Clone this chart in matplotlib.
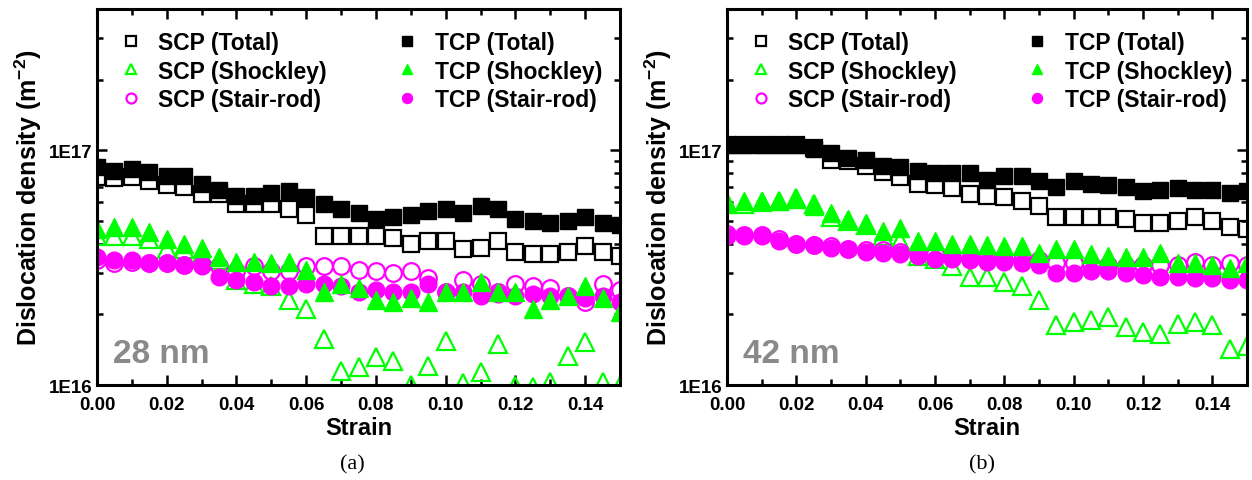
import numpy as np
import matplotlib
matplotlib.use('Agg')
import matplotlib.pyplot as plt
from matplotlib.ticker import FixedLocator, LogLocator, NullFormatter, MultipleLocator, FuncFormatter

plt.rcParams['font.family'] = ['Liberation Sans', 'DejaVu Sans']
plt.rcParams['font.weight'] = 'bold'
plt.rcParams['mathtext.fontset'] = 'custom'
plt.rcParams['mathtext.rm'] = 'Liberation Sans:bold'
plt.rcParams['mathtext.bf'] = 'Liberation Sans:bold'
plt.rcParams['mathtext.default'] = 'bf'

strain = np.arange(31) * 0.005

# 28 nm pillar (units of 1E16 m^-2)
scp_total_28 = [7.7, 7.6, 7.7, 7.4, 7.1, 7.0, 6.5, 6.5, 5.9, 5.9, 5.9, 5.6, 5.3, 4.3, 4.3, 4.3,
                4.3, 4.25, 4.0, 4.1, 4.1, 3.8, 3.85, 4.1, 3.7, 3.6, 3.6, 3.7, 3.9, 3.7, 3.55]
tcp_total_28 = [8.5, 8.2, 8.3, 8.1, 7.8, 7.8, 7.2, 6.8, 6.4, 6.4, 6.6, 6.7, 6.3, 5.9, 5.6, 5.4,
                5.1, 5.2, 5.3, 5.5, 5.6, 5.4, 5.8, 5.6, 5.1, 5.0, 4.9, 5.0, 5.2, 4.9, 4.8]
scp_shock_28 = [4.3, 4.3, 4.3, 4.2, 3.8, 3.8, 3.6, 3.4, 2.8, 2.7, 2.65, 2.3, 2.1, 1.57, 1.15, 1.19,
                1.32, 1.27, 1.0, 1.21, 1.54, 1.02, 1.14, 1.50, 0.99, 0.98, 1.03, 1.33, 1.53, 1.03, 0.99]
tcp_shock_28 = [4.6, 4.7, 4.7, 4.5, 4.2, 4.0, 3.85, 3.5, 3.35, 3.35, 3.3, 3.35, 3.1, 2.5, 2.7, 2.6,
                2.3, 2.25, 2.35, 2.25, 2.5, 2.5, 2.75, 2.5, 2.5, 2.1, 2.3, 2.4, 2.65, 2.35, 2.05]
scp_stair_28 = [3.4, 3.3, 3.35, 3.3, 3.3, 3.25, 3.25, 3.2, 3.05, 3.2, 3.05, 3.05, 3.2, 3.2, 3.2, 3.1,
                3.05, 3.0, 3.05, 2.85, 2.5, 2.8, 2.7, 2.5, 2.7, 2.65, 2.6, 2.4, 2.25, 2.7, 2.55]
tcp_stair_28 = [3.5, 3.4, 3.4, 3.3, 3.3, 3.25, 3.2, 2.9, 2.8, 2.75, 2.65, 2.65, 2.7, 2.7, 2.65, 2.5,
                2.55, 2.5, 2.5, 2.7, 2.5, 2.5, 2.4, 2.45, 2.4, 2.45, 2.4, 2.4, 2.35, 2.4, 2.25]

# 42 nm pillar
scp_total_42 = [10.5, 10.5, 10.5, 10.5, 10.5, 10.2, 9.1, 9.0, 8.6, 8.1, 7.7, 7.2, 7.1, 6.9, 6.5, 6.4,
                6.3, 6.1, 5.8, 5.2, 5.2, 5.2, 5.2, 5.1, 4.9, 4.9, 5.0, 5.2, 5.0, 4.7, 4.6]
tcp_total_42 = [10.5, 10.5, 10.5, 10.5, 10.5, 10.1, 9.7, 9.3, 9.1, 8.6, 8.5, 8.2, 8.0, 8.0, 8.0, 7.5,
                7.8, 7.8, 7.4, 7.0, 7.4, 7.2, 7.1, 7.0, 6.7, 6.75, 6.9, 6.8, 6.8, 6.55, 6.7]
scp_shock_42 = [5.9, 5.9, 6.0, 6.1, 6.25, 5.9, 5.2, 5.0, 4.8, 4.3, 4.1, 3.55, 3.45, 3.2, 2.9, 2.9,
                2.75, 2.65, 2.3, 1.8, 1.85, 1.9, 1.95, 1.77, 1.68, 1.65, 1.82, 1.86, 1.8, 1.43, 1.47]
tcp_shock_42 = [6.0, 6.1, 6.1, 6.1, 6.2, 5.8, 5.4, 5.1, 4.9, 4.55, 4.65, 4.1, 4.1, 4.0, 4.0, 3.95,
                3.9, 3.9, 3.65, 3.8, 3.8, 3.6, 3.55, 3.5, 3.5, 3.65, 3.3, 3.3, 3.25, 3.15, 3.3]
scp_stair_42 = [4.4, 4.35, 4.35, 4.2, 4.0, 3.95, 3.9, 3.8, 3.75, 3.75, 3.7, 3.65, 3.6, 3.5, 3.45, 3.45,
                3.4, 3.4, 3.4, 3.3, 3.3, 3.25, 3.25, 3.2, 3.25, 3.25, 3.25, 3.35, 3.25, 3.3, 3.25]
tcp_stair_42 = [4.3, 4.3, 4.3, 4.1, 4.0, 3.95, 3.85, 3.8, 3.7, 3.65, 3.6, 3.55, 3.45, 3.45, 3.4, 3.35,
                3.35, 3.3, 3.25, 3.0, 3.0, 3.05, 3.05, 3.0, 2.95, 2.9, 2.9, 2.85, 2.85, 2.8, 2.8]

GREEN = '#00ff00'
MAGENTA = '#ff00ff'


def draw_panel(ax, data, size_label):
    scp_t, tcp_t, scp_s, tcp_s, scp_r, tcp_r = [np.array(d) * 1e16 for d in data]
    lw = 1.6
    h = {}
    # open symbols first, filled symbols on top
    h['scp_t'], = ax.plot(strain, scp_t, 's', ms=11, mfc='none', mec='black', mew=lw, label='SCP (Total)')
    h['scp_s'], = ax.plot(strain, scp_s, '^', ms=13, mfc='none', mec=GREEN, mew=lw, label='SCP (Shockley)')
    h['scp_r'], = ax.plot(strain, scp_r, 'o', ms=12, mfc='none', mec=MAGENTA, mew=lw, label='SCP (Stair-rod)')
    h['tcp_r'], = ax.plot(strain, tcp_r, 'o', ms=12, color=MAGENTA, mec=MAGENTA, label='TCP (Stair-rod)')
    h['tcp_t'], = ax.plot(strain, tcp_t, 's', ms=11, color='black', label='TCP (Total)')
    h['tcp_s'], = ax.plot(strain, tcp_s, '^', ms=13, color=GREEN, label='TCP (Shockley)')

    ax.set_yscale('log')
    ax.set_ylim(1e16, 4e17)
    ax.set_xlim(0, 0.15)
    ax.xaxis.set_major_locator(MultipleLocator(0.02))
    ax.xaxis.set_minor_locator(MultipleLocator(0.01))
    ax.xaxis.set_major_formatter(FuncFormatter(lambda v, p: f'{v:.2f}'))
    ax.yaxis.set_major_locator(FixedLocator([1e16, 1e17]))
    ax.yaxis.set_major_formatter(FuncFormatter(lambda v, p: '1E%d' % round(np.log10(v))))
    ax.yaxis.set_minor_locator(LogLocator(base=10, subs=np.arange(2, 10)))
    ax.yaxis.set_minor_formatter(NullFormatter())
    ax.tick_params(which='both', direction='in', top=True, right=True, width=1.8, labelsize=13.5)
    ax.tick_params(which='major', length=7)
    ax.tick_params(which='minor', length=4.5)
    ax.tick_params(axis='y', pad=3)
    ax.tick_params(axis='x', pad=8)
    for lab in ax.get_xticklabels() + ax.get_yticklabels():
        lab.set_fontweight('bold')
    for sp in ax.spines.values():
        sp.set_linewidth(2.2)

    ax.set_xlabel('Strain', fontsize=17, fontweight='bold', labelpad=2)
    ax.set_ylabel('Dislocation density (m$^{-2}$)', fontsize=18, fontweight='bold', labelpad=4)

    order = ['scp_t', 'scp_s', 'scp_r', 'tcp_t', 'tcp_s', 'tcp_r']
    leg = ax.legend([h[k] for k in order], [h[k].get_label() for k in order], ncol=2,
                    loc='upper left', bbox_to_anchor=(0.012, 0.985), frameon=False,
                    markerscale=0.6, fontsize=16.5, handlelength=1.0, handletextpad=0.7,
                    columnspacing=3.0, labelspacing=0.25, borderaxespad=0.3)
    for t in leg.get_texts():
        t.set_fontweight('bold')

    ax.text(0.03, 0.06, size_label, transform=ax.transAxes, fontsize=24,
            fontweight='bold', color='#8a8a8a')


fig = plt.figure(figsize=(12.52, 4.81), dpi=100)
ax1 = fig.add_axes([0.0775, 0.1975, 0.4177, 0.7815])
ax2 = fig.add_axes([0.5807, 0.1975, 0.4153, 0.7815])

draw_panel(ax1, [scp_total_28, tcp_total_28, scp_shock_28, tcp_shock_28, scp_stair_28, tcp_stair_28], '28 nm')
draw_panel(ax2, [scp_total_42, tcp_total_42, scp_shock_42, tcp_shock_42, scp_stair_42, tcp_stair_42], '42 nm')

fig.text(352 / 1252, 1 - 465 / 481, '(a)', ha='center', va='center', fontsize=16,
         family=['Liberation Serif', 'DejaVu Serif'], fontweight='normal')
fig.text(982 / 1252, 1 - 465 / 481, '(b)', ha='center', va='center', fontsize=16,
         family=['Liberation Serif', 'DejaVu Serif'], fontweight='normal')

fig.savefig('out.png', dpi=100)
